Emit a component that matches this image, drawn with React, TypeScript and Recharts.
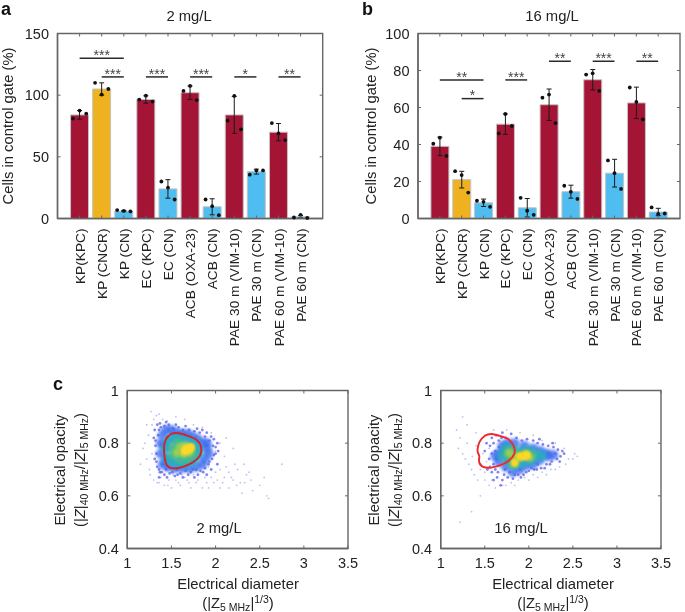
// App.tsx
import React from 'react';
import {
  ComposedChart,
  Bar,
  Cell,
  ErrorBar,
  Scatter,
  XAxis,
  YAxis,
  ReferenceLine,
  ReferenceArea
} from 'recharts';

const FONT = '"Liberation Sans", Arial, sans-serif';
const INK = '#222222';
const FRAME = '#666666';
const CRIMSON = '#A41434';
const GOLD = '#EEB11F';
const SKY = '#4FBDEF';

const strains = [
  'KP(KPC)', 'KP (CNCR)', 'KP (CN)', 'EC (KPC)', 'EC (CN)', 'ACB (OXA-23)',
  'ACB (CN)', 'PAE 30 m (VIM-10)', 'PAE 30 m (CN)', 'PAE 60 m (VIM-10)', 'PAE 60 m (CN)'
];
const positions = [1, 2, 3, 4, 5, 6, 7, 8, 9, 10, 11];
const barColors = [CRIMSON, GOLD, SKY, CRIMSON, SKY, CRIMSON, SKY, CRIMSON, SKY, CRIMSON, SKY];

const meansA = [84, 105, 6, 96.5, 24, 102, 9.5, 84, 38, 70, 1.5];
const errorsA = [3.5, 5, 0.5, 3, 7.5, 5.5, 6.5, 15, 2, 7, 1];
const repsA = [
  [81, 87.5, 85], [110, 100.5, 105], [6.8, 6.2, 5.7], [96.4, 99.6, 94.8],
  [30, 25, 15.4], [103.4, 107.5, 96], [15.4, 10, 2.7], [79.3, 99.4, 72.3],
  [35.5, 39, 39], [77.4, 69, 63.6], [0.8, 3, 0.5]
];
const bracketsA: [number, number, number, string][] = [
  [1, 3, 130, '***'], [2, 3, 114.8, '***'], [4, 5, 114.8, '***'],
  [6, 7, 114.8, '***'], [8, 9, 114.8, '*'], [10, 11, 114.8, '**']
];

const meansB = [39, 21, 8.5, 51, 5.8, 61.5, 14.5, 75, 24.5, 62.5, 3.5];
const errorsB = [5, 4.5, 2, 5.5, 5, 8.5, 3.5, 5.5, 7.5, 8.5, 2];
const repsB = [
  [40.4, 43.7, 33.8], [25.6, 23.5, 14], [9.6, 9, 6.3], [46, 56.5, 50],
  [11.2, 4.2, 2], [65.3, 67, 51.6], [17.7, 14.4, 10.6], [77.8, 78.5, 69],
  [31.4, 24.5, 16], [70.8, 63, 53.6], [6, 2.5, 2.7]
];
const bracketsB: [number, number, number, string][] = [
  [1, 3, 74.9, '**'], [2, 3, 64.8, '*'], [4, 5, 74.9, '***'],
  [6, 7, 85, '**'], [8, 9, 85, '***'], [10, 11, 85, '**']
];

const repOffsets = [-0.3, 0, 0.3];

// density clouds, one list per colour band
type P = [number, number];
const faintLow: P[] = [
  [1.22, .87], [1.27, .92], [1.3, .89], [1.33, .905], [1.36, .91], [1.4, .89], [1.45, .885], [1.18, .78],
  [1.22, .74], [1.25, .7], [1.28, .76], [1.3, .66], [1.34, .65], [1.38, .67], [1.42, .64], [1.47, .66],
  [1.5, .63], [1.55, .66], [1.6, .64], [1.65, .67], [1.7, .65], [1.75, .68], [1.8, .66], [1.85, .63],
  [1.9, .65], [1.95, .67], [2.0, .69], [2.05, .7], [2.1, .67], [2.15, .69], [2.2, .66], [2.25, .7],
  [2.28, .65], [2.35, .68], [2.4, .66], [2.42, .62], [2.5, .64], [2.55, .67], [2.58, .6], [2.6, .59],
  [2.3, .61], [2.15, .63], [2.05, .63], [2.0, .77], [2.05, .8], [2.1, .75], [2.12, .82], [2.2, .78],
  [1.95, .84], [1.85, .86], [1.75, .87], [1.65, .89], [1.55, .9], [2.75, .72], [1.88, .67], [1.72, .63],
  [1.62, .68], [1.52, .68], [1.92, .71], [2.02, .66], [2.12, .71], [2.22, .72], [2.32, .72], [1.15, .72],
  [1.58, .65], [1.68, .66], [1.78, .65], [1.92, .63], [1.98, .65], [2.08, .65], [2.18, .67], [2.24, .64],
  [2.33, .65], [2.38, .69], [1.46, .64], [1.36, .65], [1.26, .68], [1.24, .83], [1.2, .8], [1.28, .87]
];
const scatterLow: P[] = [
  [1.3, .82], [1.32, .79], [1.31, .85], [1.34, .87], [1.37, .875], [1.42, .865], [1.47, .87], [1.52, .855],
  [1.58, .86], [1.63, .85], [1.7, .85], [1.76, .845], [1.82, .84], [1.88, .825], [1.93, .81], [1.98, .815],
  [2.02, .8], [2.0, .785], [2.03, .77], [1.98, .755], [1.96, .74], [1.92, .72], [1.88, .705], [1.83, .695],
  [1.78, .7], [1.72, .69], [1.66, .695], [1.6, .685], [1.54, .675], [1.48, .685], [1.42, .68], [1.37, .69],
  [1.34, .71], [1.36, .67], [1.31, .74], [1.33, .76], [1.95, .7], [2.02, .72], [1.9, .68], [1.76, .67],
  [1.56, .7], [1.44, .7], [1.38, .86], [1.5, .84], [1.85, .85], [1.9, .79], [1.4, .72], [1.35, .83],
  [1.33, .73], [1.36, .7], [1.39, .69], [1.45, .67], [1.51, .69], [1.57, .68], [1.63, .67], [1.69, .68],
  [1.74, .7], [1.8, .68], [1.86, .69], [1.93, .73], [2.0, .76], [1.97, .79], [1.95, .825], [1.9, .84],
  [1.79, .855], [1.66, .865], [1.55, .87], [1.44, .88], [1.36, .85], [1.32, .81]
];
const bodyLow: P[] = [
  [1.4, .72], [1.38, .76], [1.38, .8], [1.4, .83], [1.44, .85], [1.5, .85], [1.56, .84], [1.62, .835],
  [1.68, .835], [1.74, .825], [1.8, .815], [1.86, .8], [1.9, .78], [1.92, .76], [1.88, .74], [1.85, .72],
  [1.78, .71], [1.7, .705], [1.62, .705], [1.54, .705], [1.46, .71], [1.44, .74], [1.42, .79], [1.9, .8]
];
const tealLow: P[] = [
  [1.46, .74], [1.44, .78], [1.47, .81], [1.53, .82], [1.6, .815], [1.68, .81], [1.75, .8], [1.8, .78],
  [1.8, .755], [1.74, .735], [1.66, .725], [1.58, .725], [1.5, .73]
];
const greenLow: P[] = [
  [1.52, .78], [1.52, .755], [1.57, .8], [1.6, .74], [1.68, .74], [1.74, .76], [1.58, .77]
];
const limeLow: P[] = [[1.6, .785], [1.66, .79], [1.72, .78], [1.64, .76], [1.7, .765], [1.56, .765]];
const yellowLow: P[] = [[1.67, .78], [1.7, .775], [1.65, .77], [1.72, .785]];
const gateLow: P[] = [
  [1.41, .785], [1.43, .815], [1.49, .838], [1.58, .84], [1.69, .827], [1.79, .816], [1.85, .785], [1.83, .748],
  [1.74, .725], [1.63, .708], [1.52, .702], [1.44, .71], [1.42, .75]
];

const faintHigh: P[] = [
  [1.18, .85], [1.22, .82], [1.2, .78], [1.25, .76], [1.3, .8], [1.28, .74], [1.32, .72], [1.36, .75],
  [1.35, .7], [1.4, .79], [1.38, .68], [1.42, .66], [1.45, .7], [1.5, .66], [1.55, .64], [1.62, .63],
  [1.7, .64], [1.8, .65], [1.88, .66], [1.95, .67], [2.05, .68], [2.15, .69], [2.25, .7], [2.35, .71],
  [2.45, .74], [2.52, .76], [2.55, .75], [2.4, .78], [2.3, .8], [2.15, .81], [2.05, .83], [1.9, .84],
  [1.75, .85], [1.6, .85], [1.5, .83], [1.4, .84], [1.45, .6], [1.35, .54], [1.22, .5], [1.55, .78],
  [1.48, .76], [1.52, .73], [2.42, .72], [1.3, .87], [1.25, .9], [1.46, .72], [1.43, .74], [1.5, .69],
  [1.58, .66], [1.74, .64], [1.84, .64], [2.0, .66], [2.1, .67], [2.2, .68], [2.3, .7], [2.5, .74]
];
const scatterHigh: P[] = [
  [1.5, .77], [1.52, .8], [1.55, .74], [1.53, .7], [1.58, .82], [1.6, .8], [1.6, .72], [1.58, .69],
  [1.63, .83], [1.66, .81], [1.7, .84], [1.74, .82], [1.8, .835], [1.86, .82], [1.92, .81], [1.98, .815],
  [2.05, .81], [2.1, .8], [2.16, .795], [2.22, .79], [2.28, .785], [2.33, .775], [2.38, .77], [2.36, .75],
  [2.32, .74], [2.26, .73], [2.2, .72], [2.14, .705], [2.06, .7], [2.0, .695], [1.94, .68], [1.88, .68],
  [1.82, .665], [1.76, .67], [1.7, .66], [1.64, .67], [1.68, .64], [1.78, .69], [1.6, .66], [1.73, .7],
  [1.9, .7], [2.1, .72], [2.3, .76], [1.65, .69], [1.56, .79], [1.58, .76], [1.56, .71], [1.62, .77],
  [1.63, .74], [1.62, .7], [1.66, .785], [1.69, .82], [1.72, .68], [1.84, .68], [1.91, .67], [1.97, .69],
  [2.03, .705], [2.09, .7], [2.18, .705], [2.24, .72], [2.35, .73], [2.4, .76], [2.27, .8], [2.12, .815]
];
const bodyHigh: P[] = [
  [1.66, .76], [1.66, .73], [1.7, .79], [1.74, .71], [1.76, .8], [1.82, .69], [1.84, .8], [1.9, .7],
  [1.95, .79], [1.97, .715], [2.05, .78], [2.05, .72], [2.13, .77], [2.12, .735], [2.2, .76], [2.22, .75],
  [2.28, .755], [1.72, .77], [1.62, .75]
];
const tealHigh: P[] = [
  [1.7, .755], [1.74, .78], [1.76, .735], [1.82, .775], [1.84, .72], [1.92, .77], [1.92, .725], [2.0, .77],
  [2.02, .735], [2.08, .755], [2.14, .752]
];
const greenHigh: P[] = [
  [1.76, .758], [1.78, .77], [1.82, .735], [1.88, .755], [1.97, .755], [2.04, .755], [1.82, .72]
];
const limeHigh: P[] = [[1.78, .763], [1.84, .745], [1.9, .745], [1.96, .76], [2.01, .745]];
const yellowHigh: P[] = [[1.9, .75], [1.95, .75], [1.98, .755], [1.84, .725]];
const gateHigh: P[] = [
  [1.415, .776], [1.434, .806], [1.495, .83], [1.576, .838], [1.67, .827], [1.77, .819], [1.835, .792],
  [1.85, .757], [1.77, .73], [1.67, .714], [1.576, .706], [1.47, .706], [1.425, .73], [1.446, .751], [1.42, .763]
];

const toPoints = (list: P[]) => list.map(([x, y]) => ({ x, y }));

const xTicksC = [1, 1.5, 2, 2.5, 3, 3.5];
const yTicksC = [0.4, 0.6, 0.8, 1];

const blob = (r: number, fill: string, opacity: number, blur: number) => (p: any) => (
  <circle
    cx={p.cx}
    cy={p.cy}
    r={r}
    fill={fill}
    fillOpacity={opacity}
    style={blur ? { filter: `blur(${blur}px)` } : undefined}
  />
);

const axisY = (left: number, right: number) => (p: any) => (
  <g>
    <line x1={left} x2={left + 3} y1={p.y} y2={p.y} stroke={FRAME} />
    <line x1={right - 3} x2={right} y1={p.y} y2={p.y} stroke={FRAME} />
    <text x={left - 8.5} y={p.y + 5} textAnchor="end" fontSize={14.5} fontFamily={FONT} fill={INK}>
      {p.payload.value}
    </text>
  </g>
);

const strainTick = (top: number, bottom: number) => (p: any) => (
  <g>
    <line x1={p.x} x2={p.x} y1={bottom - 3} y2={bottom} stroke={FRAME} />
    <line x1={p.x} x2={p.x} y1={top} y2={top + 3} stroke={FRAME} />
    <text
      transform={`translate(${p.x + 5},${bottom + 10}) rotate(-90)`}
      textAnchor="end"
      fontSize={13.7}
      fontFamily={FONT}
      fill={INK}
    >
      {strains[p.payload.value - 1]}
    </text>
  </g>
);

const numberTick = (top: number, bottom: number) => (p: any) => (
  <g>
    <line x1={p.x} x2={p.x} y1={bottom - 3} y2={bottom} stroke={FRAME} />
    <line x1={p.x} x2={p.x} y1={top} y2={top + 3} stroke={FRAME} />
    <text x={p.x} y={bottom + 19.5} textAnchor="middle" fontSize={14.5} fontFamily={FONT} fill={INK}>
      {p.payload.value}
    </text>
  </g>
);

type BarPanelProps = {
  left: number;
  axisWidth: number;
  rightMargin: number;
  yMax: number;
  yTicks: number[];
  means: number[];
  errors: number[];
  reps: number[][];
  brackets: [number, number, number, string][];
};

const BAR_W = 340;
const BAR_H = 380;
const BAR_TOP = 33.5;
const BAR_BOTTOM = 218.5;

const BarPanel: React.FC<BarPanelProps> = ({ left, axisWidth, rightMargin, yMax, yTicks, means, errors, reps, brackets }) => {
  const rows = positions.map((x, i) => ({ x, value: means[i], err: errors[i] }));
  const dots = reps.flatMap((vals, i) =>
    vals.map((y, j) => ({ x: positions[i] + repOffsets[j], y }))
  );
  return (
    <div style={{ position: 'absolute', left, top: 0 }}>
      <ComposedChart
        width={BAR_W}
        height={BAR_H}
        data={rows}
        margin={{ top: BAR_TOP, right: rightMargin, bottom: 0, left: 0 }}
      >
        <XAxis
          dataKey="x"
          type="number"
          domain={[0, 12]}
          ticks={positions}
          interval={0}
          height={BAR_H - BAR_BOTTOM}
          tickLine={false}
          axisLine={{ stroke: FRAME, strokeWidth: 1.4 }}
          tick={strainTick(BAR_TOP, BAR_BOTTOM)}
        />
        {/* own axis for the replicate dots so their spacing does not squeeze the bars */}
        <XAxis xAxisId="reps" dataKey="x" type="number" domain={[0, 12]} hide />
        <YAxis
          type="number"
          domain={[0, yMax]}
          ticks={yTicks}
          width={axisWidth}
          tickLine={false}
          axisLine={{ stroke: FRAME, strokeWidth: 1.4 }}
          tick={axisY(axisWidth, BAR_W - rightMargin)}
        />
        <ReferenceArea x1={0} x2={12} y1={0} y2={yMax} fill="none" stroke={FRAME} strokeWidth={1.4} />
        <Bar dataKey="value" barSize={18} stroke="#c4c4c4" strokeWidth={1} isAnimationActive={false}>
          {rows.map((r, i) => (
            <Cell key={r.x} fill={barColors[i]} />
          ))}
          <ErrorBar dataKey="err" direction="y" width={2.5} stroke="#1a1a1a" strokeWidth={1} isAnimationActive={false} />
        </Bar>
        <Scatter xAxisId="reps" data={dots} dataKey="y" isAnimationActive={false} shape={blob(1.9, '#111111', 1, 0)} />
        {brackets.map(([x1, x2, y, stars]) => (
          <ReferenceLine
            key={`${x1}-${x2}-${y}`}
            segment={[{ x: x1, y }, { x: x2, y }]}
            stroke="#2a2a2a"
            strokeWidth={1.5}
            label={{ value: stars, position: 'top', fontSize: 14, fontFamily: FONT, fill: '#444444', dy: 6.8 }}
          />
        ))}
      </ComposedChart>
    </div>
  );
};

type CloudPanelProps = {
  left: number;
  axisWidth: number;
  rightMargin: number;
  faint: P[];
  sparse: P[];
  body: P[];
  teal: P[];
  green: P[];
  lime: P[];
  yellow: P[];
  gate: P[];
  gateColor: string;
};

const CLOUD_TOP = 370;
const CLOUD_W = 365;
const CLOUD_H = 242;
const CLOUD_PLOT_TOP = 20.5;
const CLOUD_PLOT_BOTTOM = 178.5;

const noMark = () => <g />;

const CloudPanel: React.FC<CloudPanelProps> = ({ left, axisWidth, rightMargin, faint, sparse, body, teal, green, lime, yellow, gate, gateColor }) => (
  <div style={{ position: 'absolute', left, top: CLOUD_TOP }}>
    <ComposedChart
      width={CLOUD_W}
      height={CLOUD_H}
      margin={{ top: CLOUD_PLOT_TOP, right: rightMargin, bottom: 0, left: 0 }}
    >
      <XAxis
        dataKey="x"
        type="number"
        domain={[1, 3.5]}
        ticks={xTicksC}
        interval={0}
        height={CLOUD_H - CLOUD_PLOT_BOTTOM}
        tickLine={false}
        axisLine={{ stroke: FRAME, strokeWidth: 1.4 }}
        tick={numberTick(CLOUD_PLOT_TOP, CLOUD_PLOT_BOTTOM)}
      />
      <YAxis
        type="number"
        domain={[0.4, 1]}
        ticks={yTicksC}
        width={axisWidth}
        tickLine={false}
        axisLine={{ stroke: FRAME, strokeWidth: 1.4 }}
        tick={axisY(axisWidth, CLOUD_W - rightMargin)}
      />
      <ReferenceArea x1={1} x2={3.5} y1={0.4} y2={1} fill="none" stroke={FRAME} strokeWidth={1.4} />
      <Scatter data={toPoints(faint)} dataKey="y" isAnimationActive={false} shape={blob(0.9, '#8a8af2', 0.55, 0)} />
      <Scatter data={toPoints(sparse)} dataKey="y" isAnimationActive={false} shape={blob(1.4, '#5050ee', 0.7, 0)} />
      <Scatter data={toPoints(body)} dataKey="y" isAnimationActive={false} shape={blob(5, '#3f6df0', 0.8, 1.5)} />
      <Scatter data={toPoints(teal)} dataKey="y" isAnimationActive={false} shape={blob(5.5, '#2aa9c4', 0.95, 1.5)} />
      <Scatter data={toPoints(green)} dataKey="y" isAnimationActive={false} shape={blob(5, '#45b98c', 0.95, 1.5)} />
      <Scatter data={toPoints(lime)} dataKey="y" isAnimationActive={false} shape={blob(4, '#a4cf4e', 0.95, 1.5)} />
      <Scatter data={toPoints(yellow)} dataKey="y" isAnimationActive={false} shape={blob(4, '#fcd827', 1, 1)} />
      <Scatter
        data={toPoints(gate)}
        dataKey="y"
        isAnimationActive={false}
        shape={noMark}
        line={{ stroke: gateColor, strokeWidth: 1.9, fill: 'none' }}
        lineJointType="basisClosed"
      />
    </ComposedChart>
  </div>
);

const AxisText: React.FC<{ x: number; y: number; size?: number; vertical?: boolean; children: React.ReactNode }> = ({ x, y, size = 14.8, vertical, children }) => (
  <text
    x={vertical ? 0 : x}
    y={vertical ? 0 : y}
    transform={vertical ? `translate(${x},${y}) rotate(-90)` : undefined}
    textAnchor="middle"
    fontSize={size}
    fontFamily={FONT}
    fill={INK}
  >
    {children}
  </text>
);

const PanelLetter: React.FC<{ x: number; y: number; children: string }> = ({ x, y, children }) => (
  <text x={x} y={y} fontSize={18} fontWeight="bold" fontFamily={FONT} fill="#111111">
    {children}
  </text>
);

const OpacityLabel: React.FC<{ x: number }> = ({ x }) => (
  <AxisText x={x} y={470} vertical>
    (|<tspan fontStyle="italic">Z</tspan>|<tspan fontSize={10.5} dy={3}>40 MHz</tspan>
    <tspan dy={-3}>/|</tspan><tspan fontStyle="italic">Z</tspan>|<tspan fontSize={10.5} dy={3}>5 MHz</tspan>
    <tspan dy={-3}>)</tspan>
  </AxisText>
);

const DiameterLabel: React.FC<{ x: number }> = ({ x }) => (
  <AxisText x={x} y={608}>
    (|Z<tspan fontSize={10.5} dy={3}>5 MHz</tspan><tspan dy={-3}>|</tspan>
    <tspan fontSize={10.5} dy={-5}>1/3</tspan><tspan dy={5}>)</tspan>
  </AxisText>
);

const Overlay: React.FC = () => (
  <svg width={685} height={612} style={{ position: 'absolute', left: 0, top: 0, pointerEvents: 'none' }}>
    <PanelLetter x={1} y={15}>a</PanelLetter>
    <PanelLetter x={362} y={15}>b</PanelLetter>
    <PanelLetter x={53} y={390}>c</PanelLetter>
    <AxisText x={189} y={21}>2 mg/L</AxisText>
    <AxisText x={552} y={21}>16 mg/L</AxisText>
    <AxisText x={12.5} y={126} vertical>Cells in control gate (%)</AxisText>
    <AxisText x={376} y={126} vertical>Cells in control gate (%)</AxisText>
    <AxisText x={65} y={470} vertical>Electrical opacity</AxisText>
    <OpacityLabel x={85} />
    <AxisText x={379} y={470} vertical>Electrical opacity</AxisText>
    <OpacityLabel x={399} />
    <AxisText x={219} y={533}>2 mg/L</AxisText>
    <AxisText x={521} y={533}>16 mg/L</AxisText>
    <AxisText x={238} y={589}>Electrical diameter</AxisText>
    <DiameterLabel x={238} />
    <AxisText x={553} y={589}>Electrical diameter</AxisText>
    <DiameterLabel x={553} />
  </svg>
);

export default function App() {
  return (
    <div style={{ position: 'absolute', left: 0, top: 0, width: 685, height: 612, overflow: 'hidden', background: '#fff', filter: 'blur(0.35px)' }}>
      <BarPanel
        left={0}
        axisWidth={57.5}
        rightMargin={17.3}
        yMax={150}
        yTicks={[0, 50, 100, 150]}
        means={meansA}
        errors={errorsA}
        reps={repsA}
        brackets={bracketsA}
      />
      <BarPanel
        left={345}
        axisWidth={73}
        rightMargin={5}
        yMax={100}
        yTicks={[0, 20, 40, 60, 80, 100]}
        means={meansB}
        errors={errorsB}
        reps={repsB}
        brackets={bracketsB}
      />
      <CloudPanel
        left={0}
        axisWidth={127.3}
        rightMargin={17}
        faint={faintLow}
        sparse={scatterLow}
        body={bodyLow}
        teal={tealLow}
        green={greenLow}
        lime={limeLow}
        yellow={yellowLow}
        gate={gateLow}
        gateColor="#d2232e"
      />
      <CloudPanel
        left={330}
        axisWidth={110.7}
        rightMargin={34}
        faint={faintHigh}
        sparse={scatterHigh}
        body={bodyHigh}
        teal={tealHigh}
        green={greenHigh}
        lime={limeHigh}
        yellow={yellowHigh}
        gate={gateHigh}
        gateColor="#f02a2a"
      />
      <Overlay />
    </div>
  );
}
